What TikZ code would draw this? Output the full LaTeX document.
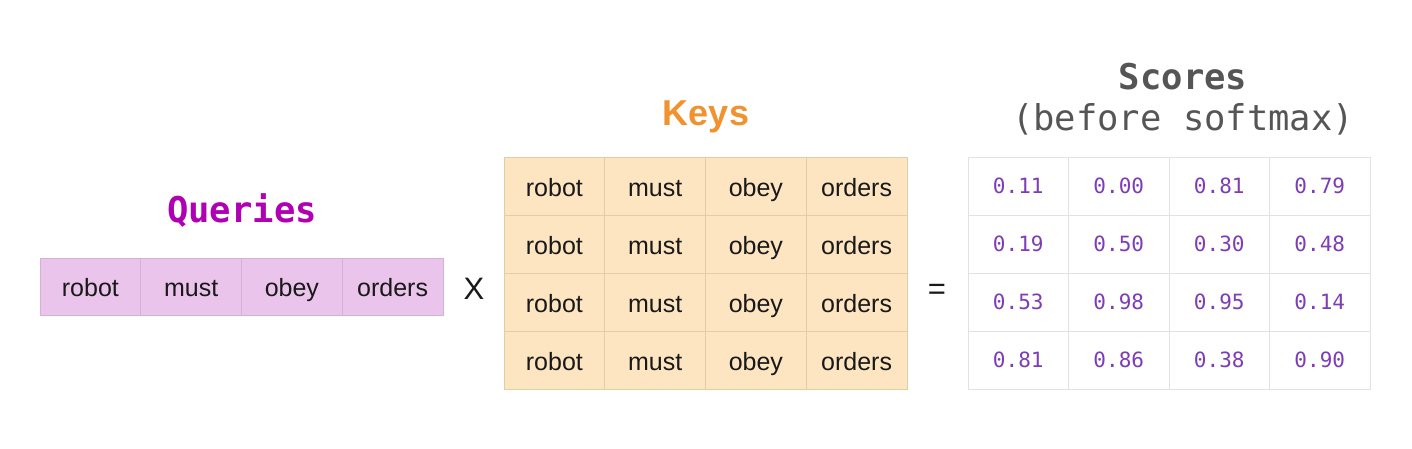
\documentclass[tikz,border=0pt]{standalone}
\usepackage{fontspec}
\setmainfont{Liberation Sans}
\setmonofont{DejaVu Sans Mono}
\usetikzlibrary{positioning}

\definecolor{qfill}{HTML}{EAC4EA}
\definecolor{qline}{HTML}{D6B0D6}
\definecolor{qtitle}{HTML}{B000B4}
\definecolor{kfill}{HTML}{FDE5C1}
\definecolor{kline}{HTML}{E2CCAA}
\definecolor{ktitle}{HTML}{F2922E}
\definecolor{sline}{HTML}{E2E2E2}
\definecolor{stitle}{HTML}{555555}
\definecolor{snum}{HTML}{7E3DB6}

\tikzset{
  word/.style={font=\fontsize{25}{28}\selectfont, text=black!90,
    text height=22pt, text depth=2pt},
  qcell/.style={word, draw=qline, fill=qfill, line width=1pt,
    minimum width=100.75pt, minimum height=57pt, inner sep=0pt},
  kcell/.style={word, draw=kline, fill=kfill, line width=1pt,
    minimum width=100.75pt, minimum height=58pt, inner sep=0pt},
  scell/.style={draw=sline, fill=white, line width=1pt, text=snum,
    font=\ttfamily\fontsize{21}{24}\selectfont,
    minimum width=100.5pt, minimum height=58pt, inner sep=0pt},
  title/.style={font=\ttfamily\bfseries\fontsize{35.5}{38}\selectfont},
  sign/.style={font=\fontsize{31}{34}\selectfont, text=black!90}
}

\begin{document}
\begin{tikzpicture}[x=1pt, y=-1pt]
      \useasboundingbox (0,0) rectangle (1412,448);

      % Queries (one row)
      \foreach \w [count=\c] in {robot,must,obey,orders}
        \node[qcell] (q\c) at ({40+100.75*(\c-0.5)},286.5) {\w};
      \node[title, text=qtitle] (qt) at (242,210) {Queries};

      % Keys (four rows)
      \foreach \r in {1,...,4}
        \foreach \w [count=\c] in {robot,must,obey,orders}
          \node[kcell] (k\r\c) at ({504+100.75*(\c-0.5)},{157+58*(\r-0.5)}) {\w};
      \node[font=\bfseries\fontsize{36}{38}\selectfont, text=ktitle]
        (kt) at (706,117) {Keys};

      % Scores (before softmax)
      \foreach \vals [count=\r] in {{0.11,0.00,0.81,0.79},{0.19,0.50,0.30,0.48},
                                     {0.53,0.98,0.95,0.14},{0.81,0.86,0.38,0.90}}
        \foreach \v [count=\c] in \vals
          \node[scell] (s\r\c) at ({968+100.5*(\c-0.5)},{157+58*(\r-0.5)}) {\v};
      \node[title, text=stitle] (st) at (1183,77) {Scores};
      \node[font=\ttfamily\fontsize{35.5}{38}\selectfont, text=stitle]
        (ss) at (1183,119) {(before softmax)};

      % Signs
      \node[sign] (times) at (474,289) {X};
      \node[sign] (equals) at (937,292) {=};
    \end{tikzpicture}
\end{document}
